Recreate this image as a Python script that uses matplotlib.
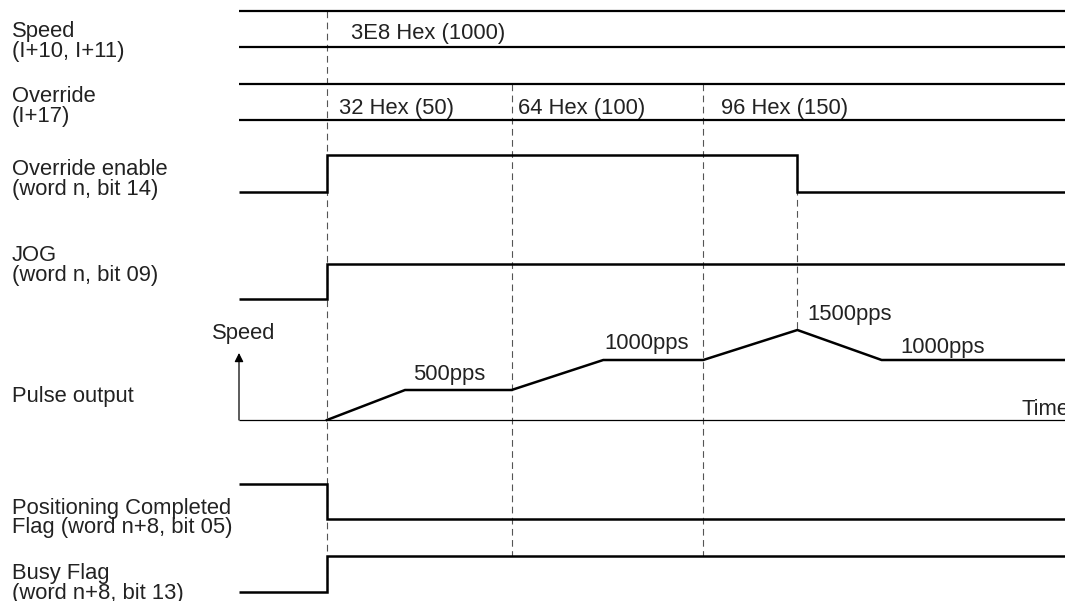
import matplotlib
matplotlib.use("Agg")
import matplotlib.pyplot as plt

plt.rcParams['font.family'] = ['Liberation Sans', 'DejaVu Sans']

# time axis in arbitrary units (0..100 across the diagram)
T_END = 100
t_start = 10.65          # JOG / override enable switched on
t_ovr_100 = 33.0         # override changed to 100
t_ovr_150 = 56.2         # override changed to 150
t_ovr_off = 67.6         # override enable switched off

# digital signals (steps-post)
ovr_enable_t = [0, t_start, t_ovr_off, T_END]
ovr_enable_v = [0, 1, 0, 0]
jog_t = [0, t_start, T_END]
jog_v = [0, 1, 1]
pos_done_t = [0, t_start, T_END]
pos_done_v = [1, 0, 0]
busy_t = [0, t_start, T_END]
busy_v = [0, 1, 1]

# pulse output speed profile
pulse_t = [t_start, 20.1, t_ovr_100, 44.1, t_ovr_150, t_ovr_off, 77.8, T_END]
pulse_pps = [0, 500, 500, 1000, 1000, 1500, 1000, 1000]
pulse_labels = ["500pps", "1000pps", "1500pps", "1000pps"]

# bus values
speed_values = ["3E8 Hex (1000)"]
override_values = ["32 Hex (50)", "64 Hex (100)", "96 Hex (150)"]

row_labels = [
    ("Speed", "(I+10, I+11)"),
    ("Override", "(I+17)"),
    ("Override enable", "(word n, bit 14)"),
    ("JOG", "(word n, bit 09)"),
    ("Pulse output", None),
    ("Positioning Completed", "Flag (word n+8, bit 05)"),
    ("Busy Flag", "(word n+8, bit 13)"),
]

W, H = 1065, 601
X0, X1 = 239, 1065
TXT = '#222222'
FS = 15.8
LW = 1.8

fig = plt.figure(figsize=(W / 100, H / 100), dpi=100)


def ptext(x, y, s, **kw):
    # place text by pixel position (baseline)
    fig.text(x / W, 1 - y / H, s, fontsize=FS, color=TXT, va='baseline', ha='left', **kw)


def row_axes(top, bottom, ylim):
    ax = fig.add_axes([X0 / W, 1 - bottom / H, (X1 - X0) / W, (bottom - top) / H])
    ax.set_xlim(0, T_END)
    ax.set_ylim(*ylim)
    ax.axis('off')
    return ax


# dashed time markers (drawn first, underneath)
guide = fig.add_axes([X0 / W, 0, (X1 - X0) / W, 1])
guide.set_xlim(0, T_END)
guide.set_ylim(H, 0)
guide.axis('off')
dash = dict(color='#555555', lw=0.8, linestyle=(0, (6, 4)))
guide.vlines(t_start, 11, 592, **dash)
guide.vlines([t_ovr_100, t_ovr_150], 84, 556, **dash)
guide.vlines(t_ovr_off, 155, 329, **dash)

# bus rows
for top, bot in [(11, 47), (84, 120)]:
    ax = row_axes(top, bot, (0, 1))
    ax.hlines([0, 1], 0, T_END, color='black', lw=1.6, clip_on=False)

# digital rows
for (top, bot), tt, vv in [((155, 192), ovr_enable_t, ovr_enable_v),
                           ((264, 299), jog_t, jog_v),
                           ((484, 519), pos_done_t, pos_done_v),
                           ((556, 592), busy_t, busy_v)]:
    ax = row_axes(top, bot, (0, 1))
    ax.plot(tt, vv, drawstyle='steps-post', color='black', lw=LW,
            clip_on=False, solid_joinstyle='miter', solid_capstyle='butt')

# pulse output
ax = row_axes(330, 420, (0, 1500))
ax.hlines(0, 0, T_END, color='black', lw=0.9, clip_on=False)
ax.plot(pulse_t, pulse_pps, color='black', lw=LW, clip_on=False,
        solid_joinstyle='miter')
ax.annotate('', xy=(0, 0.745), xycoords='axes fraction', xytext=(0, 0),
            textcoords='axes fraction',
            arrowprops=dict(arrowstyle='-|>', color='black', lw=0.9,
                            mutation_scale=13, shrinkA=0, shrinkB=0))

# left labels
label_pos = [(36.5, 57), (102, 122), (175, 195), (261, 281), (402, None),
             (514, 533.5), (579, 598.5)]
for (l1, l2), (y1, y2) in zip(row_labels, label_pos):
    ptext(12, y1, l1)
    if l2:
        ptext(12, y2, l2)

# bus value texts
ptext(351, 38.5, speed_values[0])
for x, s in zip([339, 518, 721], override_values):
    ptext(x, 113.5, s)

# pulse texts
for (x, y), s in zip([(413, 380), (604, 348.5), (807, 320), (900, 353)], pulse_labels):
    ptext(x, y, s)
ptext(212, 338.5, "Speed")
ptext(1021, 415, "Time")

fig.savefig("out.png", dpi=100)
